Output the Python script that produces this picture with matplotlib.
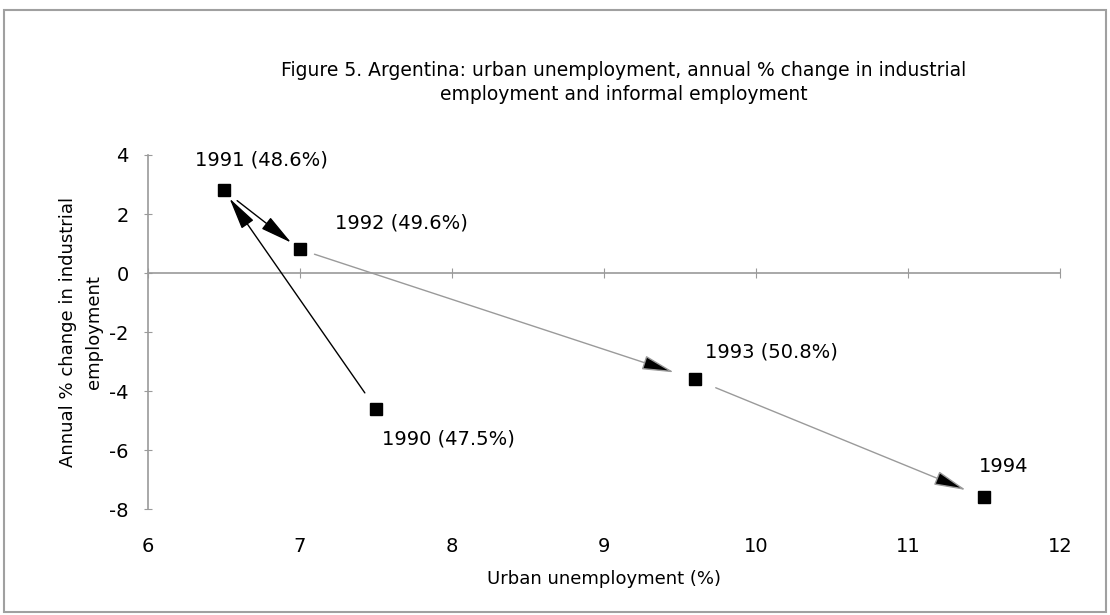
import matplotlib.pyplot as plt
from matplotlib.patches import Rectangle

# data
years = ["1990", "1991", "1992", "1993", "1994"]
unemployment = [7.5, 6.5, 7.0, 9.6, 11.5]
industrial_change = [-4.6, 2.8, 0.8, -3.6, -7.6]
informal_share = ["(47.5%)", "(48.6%)", "(49.6%)", "(50.8%)", ""]

x_ticks = [6, 7, 8, 9, 10, 11, 12]
y_ticks = [-8, -6, -4, -2, 0, 2, 4]

# label offsets (points) for each year, and arrow line colours
label_offsets = [(4, -22), (-21, 22), (25, 19), (7, 20), (-4, 22)]
line_colours = ["black", "black", "#9a9a9a", "#9a9a9a"]
shrink_start = [14, 12, 11, 16]
shrink_end = [7, 8, 16, 14]

axis_grey = "#9a9a9a"
plt.rcParams["font.family"] = "DejaVu Sans"
plt.rcParams["axes.unicode_minus"] = False

fig = plt.figure(figsize=(11.1, 6.15), dpi=100)
ax = fig.add_axes([0.1333, 0.172, 0.8216, 0.576])

ax.set_xlim(6, 12)
ax.set_ylim(-8, 4)

# axis at y=0 with crossing ticks, labels drawn on a separate bottom axis
ax.spines["top"].set_visible(False)
ax.spines["right"].set_visible(False)
ax.spines["bottom"].set_position(("data", 0))
for s in ("bottom", "left"):
    ax.spines[s].set_color(axis_grey)
    ax.spines[s].set_linewidth(1.2)
ax.set_xticks(x_ticks)
ax.set_yticks(y_ticks)
ax.tick_params(axis="x", direction="inout", length=7, color=axis_grey, labelbottom=False)
ax.tick_params(axis="y", direction="inout", length=6, color=axis_grey, pad=11, labelsize=14)

sec = ax.secondary_xaxis("bottom")
sec.spines["bottom"].set_visible(False)
sec.set_xticks(x_ticks)
sec.tick_params(length=0, pad=20, labelsize=14)
sec.set_xlabel("Urban unemployment (%)", fontsize=13, labelpad=10)

ax.set_ylabel("Annual % change in industrial\nemployment", fontsize=13,
              labelpad=4, linespacing=1.6)

# arrows between consecutive years
for i in range(len(years) - 1):
    ax.annotate("", xy=(unemployment[i + 1], industrial_change[i + 1]),
                xytext=(unemployment[i], industrial_change[i]),
                arrowprops=dict(arrowstyle="-|>,head_length=2.0,head_width=0.45",
                                edgecolor=line_colours[i], facecolor="black",
                                lw=1.0, shrinkA=shrink_start[i], shrinkB=shrink_end[i]))

ax.plot(unemployment, industrial_change, "s", color="black", ms=8.5, ls="none", zorder=5)

for yr, share, ux, iy, off in zip(years, informal_share, unemployment,
                                  industrial_change, label_offsets):
    ax.annotate((yr + " " + share).strip(), xy=(ux, iy), xytext=off,
                textcoords="offset points", fontsize=14, ha="left", va="center")

fig.text(0.562, 0.866, "Figure 5. Argentina: urban unemployment, annual % change in industrial\n"
         "employment and informal employment", ha="center", va="center",
         fontsize=13.5, linespacing=1.3)

# frame around the whole figure
fig.patches.append(Rectangle((0.004, 0.005), 0.992, 0.978, transform=fig.transFigure,
                             fill=False, edgecolor="#a0a0a0", lw=1.5))

fig.savefig("out.png", dpi=100)
